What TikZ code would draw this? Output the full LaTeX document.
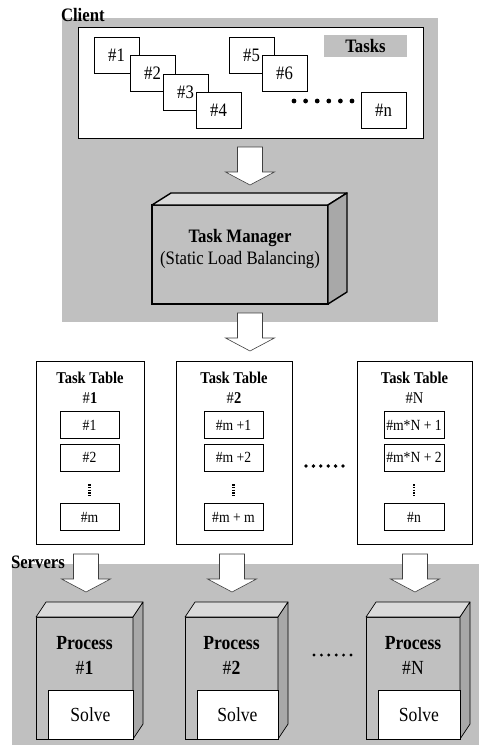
\documentclass[tikz,border=0pt]{standalone}
\usepackage{fontspec}
\setmainfont[FakeStretch=0.88]{Liberation Serif}
\definecolor{bggray}{HTML}{C0C0C0}
\definecolor{topgray}{HTML}{DADADA}
\definecolor{sidegray}{HTML}{A8A8A8}
\begin{document}
\begin{tikzpicture}[x=1pt,y=-1pt,
  every node/.style={inner sep=0pt, outer sep=0pt},
  graybg/.style={fill=bggray, draw=none},
  plainbox/.style={draw, fill=white, line width=0.6pt},
  taskbox/.style={plainbox, minimum width=45, minimum height=36, anchor=north west, font=\fontsize{19}{21}\selectfont},
  tablebox/.style={plainbox, minimum height=183, anchor=north west},
  itembox/.style={plainbox, minimum width=59, minimum height=27, font=\fontsize{15.5}{17}\selectfont},
  headtext/.style={align=center, font=\fontsize{16.5}{20}\selectfont\bfseries},
  procface/.style={draw, fill=bggray, line width=0.7pt, minimum height=122, anchor=north west},
  proctext/.style={align=center, font=\fontsize{20}{25}\selectfont\bfseries},
  solvebox/.style={plainbox, line width=0.7pt, minimum height=49, anchor=south east, font=\fontsize{20}{22}\selectfont},
  topface/.style={draw, fill=topgray, line width=0.7pt, line join=round},
  sideface/.style={draw, fill=sidegray, line width=0.7pt, line join=round},
  arrowstyle/.style={draw=black!75, fill=white, line width=0.6pt},
  vdots/.style={line width=2.6pt, dash pattern=on 1.6pt off 1.2pt},
  blockarrow/.pic={\path[arrowstyle] (-12.5,0) -- (-12.5,25) -- (-24.5,25) -- (0,38) -- (24.5,25) -- (12.5,25) -- (12.5,0) -- cycle;},
  lbl/.style={anchor=base west, font=\fontsize{19}{21}\selectfont\bfseries}
]
\useasboundingbox (0,0) rectangle (481,747);
\fill[white] (0,0) rectangle (481,747);

% ---------------- Client ----------------
\node[graybg, minimum width=376, minimum height=304, anchor=north west] (client) at (62,18) {};
\node[lbl] (clientlbl) at (61,21) {Client};
\node[plainbox, minimum width=345, minimum height=111, anchor=north west] (tasks) at (78,27) {};
\node[fill=bggray, minimum width=83, minimum height=22, anchor=north west, font=\fontsize{19}{21}\selectfont\bfseries] (taskslbl) at (324,35) {Tasks};

\node[taskbox] (t1) at (94,37) {\#1};
\node[taskbox] (t2) at (130,55) {\#2};
\node[taskbox] (t3) at (163,74) {\#3};
\node[taskbox] (t4) at (196,92) {\#4};
\node[taskbox] (t5) at (229,37) {\#5};
\node[taskbox] (t6) at (262,55) {\#6};
\node[taskbox] (tn) at (361,92) {\#n};
\foreach \i in {0,...,5} \fill (294+11.6*\i,101) circle (2.4);

% arrow to task manager
\pic at (250,147) {blockarrow};

% ---------------- Task Manager ----------------
\node[draw, fill=bggray, line width=1.4pt, minimum width=176, minimum height=99, anchor=north west] (tm) at (152,205) {};
\path[topface, line width=1.4pt] (tm.north west) -- ++(19,-12) -- ([shift={(19,-12)}]tm.north east) -- (tm.north east) -- cycle;
\path[sideface, line width=1.4pt] (tm.north east) -- ([shift={(19,-12)}]tm.north east) -- ([shift={(19,-12)}]tm.south east) -- (tm.south east) -- cycle;
\node[align=center, font=\fontsize{19}{22}\selectfont] (tmtext) at (240,249) {\textbf{Task Manager}\\(Static Load Balancing)};

% arrow to tables
\pic at (250,313) {blockarrow};

% ---------------- Task tables ----------------
\node[tablebox, minimum width=108] (tab1) at (36,361) {};
\node[tablebox, minimum width=116] (tab2) at (176,361) {};
\node[tablebox, minimum width=115] (tabN) at (357,361) {};

\node[headtext] (h1) at (90,388) {Task Table\\{\mdseries\#}1};
\node[headtext] (h2) at (234,388) {Task Table\\{\mdseries\#}2};
\node[headtext] (hN) at (414.5,388) {Task Table\\{\mdseries\#N}};

\node[itembox] (a1) at (89.5,425) {\#1};
\node[itembox] (a2) at (89.5,457.5) {\#2};
\node[itembox] (am) at (89.5,517) {\#m};
\draw[vdots] (89.5,484) -- (89.5,496);

\node[itembox] (b1) at (233.5,425) {\#m +1};
\node[itembox] (b2) at (233.5,457.5) {\#m +2};
\node[itembox] (bm) at (233.5,517) {\#m + m};
\draw[vdots] (233.5,484) -- (233.5,496);

\node[itembox, minimum width=60] (c1) at (414,425) {\#m*N + 1};
\node[itembox, minimum width=60] (c2) at (414,457.5) {\#m*N + 2};
\node[itembox, minimum width=60] (cn) at (414,517) {\#n};
\draw[vdots] (414,484) -- (414,496);

\foreach \i in {0,...,5} \fill (306+7.4*\i,466) circle (1.9);

% ---------------- Servers ----------------
\node[graybg, minimum width=467, minimum height=181, anchor=north west] (servers) at (12,564) {};
\node[lbl] (serverslbl) at (11,568) {Servers};

\pic at (86,554) {blockarrow};
\pic at (232,554) {blockarrow};
\pic at (415,554) {blockarrow};

% process boxes
\foreach \n/\x/\w/\lab in {p1/36/97/{{\mdseries\#}1}, p2/185/93/{{\mdseries\#}2}, pN/366/94/{{\mdseries\#N}}}{
  \node[procface, minimum width=\w] (\n) at (\x,617) {};
  \path[topface] (\n.north west) -- ++(10,-15) -- ([shift={(10,-15)}]\n.north east) -- (\n.north east) -- cycle;
  \path[sideface] (\n.north east) -- ([shift={(10,-15)}]\n.north east) -- ([shift={(10,-15)}]\n.south east) -- (\n.south east) -- cycle;
  \node[solvebox, minimum width=\w-12] (\n s) at (\n.south east) {Solve};
  \node[proctext] (\n t) at ([yshift=84]\n.south) {Process\\\lab};
}

\foreach \i in {0,...,5} \fill (314+7.4*\i,655) circle (1.6);
\end{tikzpicture}
\end{document}
